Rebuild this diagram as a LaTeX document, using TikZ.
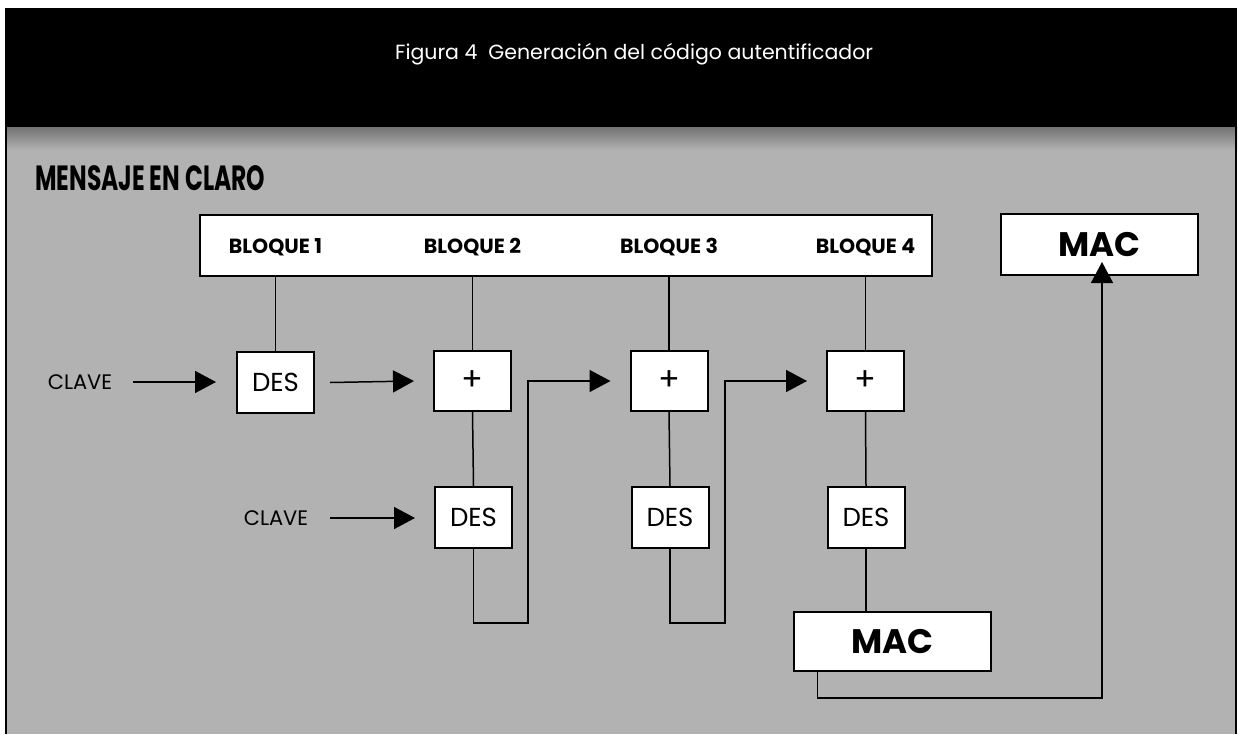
\documentclass[tikz,border=0pt]{standalone}
\usepackage{fontspec}
\setmainfont{Poppins}
\usetikzlibrary{arrows.meta,calc}
\definecolor{halftone}{gray}{0.70}
\tikzset{
  box/.style={draw=black, line width=2pt, fill=white, inner sep=0pt, minimum width=77pt, minimum height=61pt},
  widebox/.style={box, minimum width=197pt},
  conn/.style={draw=black, line width=1.5pt},
  arr/.style={conn, -{Triangle[length=21pt,width=22pt]}},
  destext/.style={font=\fontsize{26}{30}\selectfont},
  plustext/.style={font=\fontsize{32}{34}\selectfont},
  bloque/.style={font=\bfseries\fontsize{20.5}{24}\selectfont},
  mactext/.style={font=\bfseries\fontsize{34}{38}\selectfont},
  clave/.style={font=\fontsize{21}{24}\selectfont, inner sep=0pt},
}
\begin{document}
\begin{tikzpicture}[x=1pt,y=-1pt]
\useasboundingbox (0,0) rectangle (1239,734);
\fill[white] (0,0) rectangle (1239,734);
% header
\fill[black] (5,8) rectangle (1237,127);
\fill[halftone] (5,127) rectangle (1237,734);
\shade[top color=black!55, bottom color=halftone] (5,127) rectangle (1237,150);
\draw[line width=2pt] (6,127) -- (6,734);
\draw[line width=2pt] (1236,127) -- (1236,734);
\node[anchor=west, text=white, font=\fontsize{20.5}{24}\selectfont, inner sep=0pt] (title) at (395,54) {Figura 4\ \ Generación del código autentificador};
% heading
\node[anchor=west, inner sep=0pt] (heading) at (35,178) {\scalebox{0.67}[1]{\bfseries\fontsize{35}{38}\selectfont MENSAJE EN CLARO}};
% top message box
\node[box, minimum width=732pt, minimum height=61pt] (msg) at (566,245.5) {};
\node[bloque] (b1) at (275.5,247) {BLOQUE 1};
\node[bloque] (b2) at (472.5,247) {BLOQUE 2};
\node[bloque] (b3) at (669,247) {BLOQUE 3};
\node[bloque] (b4) at (865.5,247) {BLOQUE 4};
\node[widebox] (mac) at (1099.5,244.5) {};
\node[mactext] at (mac.center) {MAC};
% processing boxes
\node[box] (des1) at (275.5,382.5) {};
\node[destext] at (des1.center) {DES};
\node[box, minimum height=60pt] (p1) at (472.5,381) {};
\node[plustext] at (p1.center) {+};
\node[box] (d2) at (473.5,517.5) {};
\node[destext] at (d2.center) {DES};
\node[box, minimum height=60pt] (p2) at (669,381) {};
\node[plustext] at (p2.center) {+};
\node[box] (d3) at (670,517.5) {};
\node[destext] at (d3.center) {DES};
\node[box, minimum height=60pt] (p3) at (865.5,381) {};
\node[plustext] at (p3.center) {+};
\node[box] (d4) at (866,517.5) {};
\node[destext] at (d4.center) {DES};
\node[widebox, minimum height=59pt] (macl) at (892.5,641.5) {};
\node[mactext] at (macl.center) {MAC};
% key labels
\node[clave] (k1) at (80,382) {CLAVE};
\node[clave] (k2) at (276,518) {CLAVE};
% vertical connectors from message box
\draw[conn] (des1.north) -- (des1.north |- msg.south);
\draw[conn] (p1.north) -- (p1.north |- msg.south);
\draw[conn] (p2.north) -- (p2.north |- msg.south);
\draw[conn] (p3.north) -- (p3.north |- msg.south);
% plus to des
\draw[conn] (p1.south) -- (d2.north);
\draw[conn] (p2.south) -- (d3.north);
\draw[conn] (p3.south) -- (d4.north);
\draw[conn] (d4.south) -- (d4.south |- macl.north);
% key arrows
\draw[arr] ([xshift=21pt]k1.east) -- ([xshift=-20pt]des1.west |- k1.east);
\draw[arr] ([xshift=22pt]k2.east) -- ([xshift=-19pt]d2.west |- k2.east);
\draw[arr] ([xshift=15pt]des1.east) -- ([xshift=-19pt]p1.west);
% loops
\coordinate (bend1) at (528,623);
\coordinate (bend2) at (725,623);
\draw[arr] (d2.south) |- (bend1) |- ([xshift=-19pt]p2.west);
\draw[arr] (d3.south) |- (bend2) |- ([xshift=-19pt]p3.west);
% MAC return
\coordinate (ret) at (1102,698);
\draw[arr] ([xshift=-75pt]macl.south) |- (ret) -- ([yshift=14pt]mac.south -| ret);
\end{tikzpicture}
\end{document}
